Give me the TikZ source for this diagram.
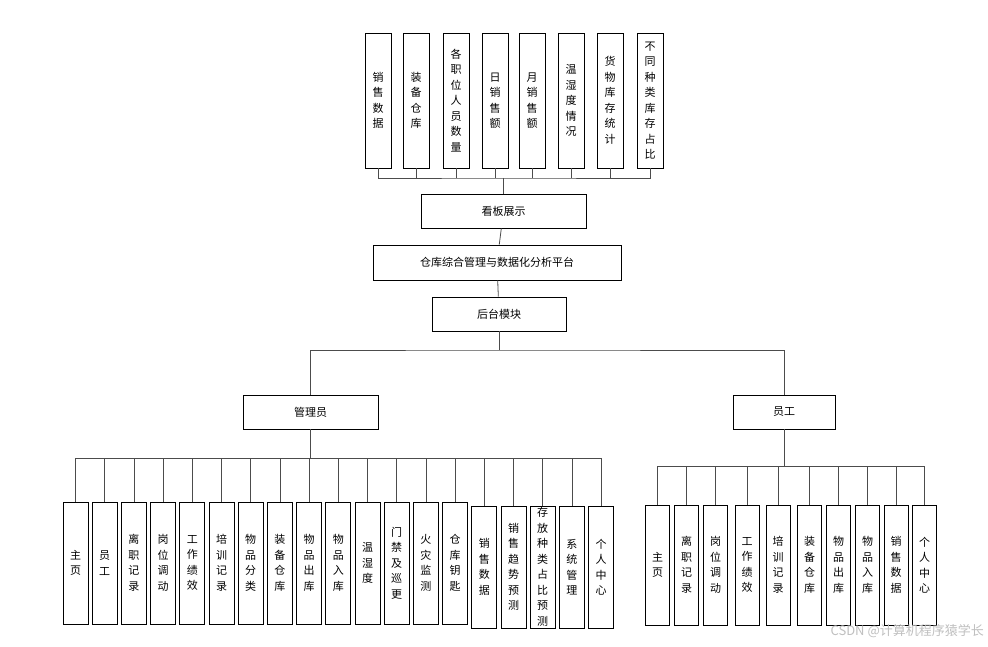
\documentclass[tikz,border=0pt]{standalone}
\usepackage{fontspec}
\newfontfamily\cjk{Noto Sans CJK SC}
\begin{document}
\begin{tikzpicture}[x=1pt,y=-1pt,
  bx/.style={draw=black,line width=0.8pt,fill=white,inner sep=0pt,font=\cjk\fontsize{11}{15.5}\selectfont,align=center},
  ln/.style={draw=black!70,line width=0.8pt}]
\useasboundingbox (0,0) rectangle (988,647);
% top boxes
\foreach \i/\xl/\t in {1/365/销\\售\\数\\据,2/403/装\\备\\仓\\库,3/443/各\\职\\位\\人\\员\\数\\量,4/482/日\\销\\售\\额,5/519/月\\销\\售\\额,6/558/温\\湿\\度\\情\\况,7/597/货\\物\\库\\存\\统\\计,8/637/不\\同\\种\\类\\库\\存\\占\\比}{
  \node[bx,minimum width=26pt,minimum height=135pt] (t\i) at (\xl+13,100.5) {\t};
}
\node[bx,minimum width=165pt,minimum height=34pt] (kb) at (503.5,211) {看板展示};
\node[bx,minimum width=248pt,minimum height=35pt] (pt) at (497,262.5) {仓库综合管理与数据化分析平台};
\node[bx,minimum width=134pt,minimum height=34pt] (ht) at (499,314) {后台模块};
\node[bx,minimum width=135pt,minimum height=34pt] (gl) at (310.5,412) {管理员};
\node[bx,minimum width=102pt,minimum height=34pt] (yg) at (784,412) {员工};
\coordinate (tb) at (503.5,178);
\draw[ln] (t1.south) |- (tb) -| (t8.south);
\foreach \i in {2,...,7}{\draw[ln] (t\i.south) -- (t\i.south |- tb);}
\draw[ln] (tb) -- (kb.north);
\draw[ln] (kb) -- (pt);
\draw[ln] (pt) -- (ht);
\coordinate (mb) at (499,350);
\draw[ln] (ht.south) -- (mb);
\draw[ln] (gl.north) |- (mb) -| (yg.north);
% left children
\coordinate (lb) at (310.5,458);
\draw[ln] (gl.south) -- (lb);
\foreach \i/\t in {0/主\\页,1/员\\工,2/离\\职\\记\\录,3/岗\\位\\调\\动,4/工\\作\\绩\\效,5/培\\训\\记\\录,6/物\\品\\分\\类,7/装\\备\\仓\\库,8/物\\品\\出\\库,9/物\\品\\入\\库,10/温\\湿\\度,11/门\\禁\\及\\巡\\更,12/火\\灾\\监\\测,13/仓\\库\\钥\\匙}{
  \node[bx,minimum width=25pt,minimum height=122pt] (l\i) at (75.5+29.2*\i,563) {\t};
  \draw[ln] (l\i.north) -- (l\i.north |- lb);
}
\foreach \i/\t in {14/销\\售\\数\\据,15/销\\售\\趋\\势\\预\\测,16/存\\放\\种\\类\\占\\比\\预\\测,17/系\\统\\管\\理,18/个\\人\\中\\心}{
  \node[bx,minimum width=25pt,minimum height=122pt] (l\i) at (75.5+29.2*\i,567) {\t};
  \draw[ln] (l\i.north) -- (l\i.north |- lb);
}
\draw[ln] (l0.north |- lb) -- (l18.north |- lb);
% right children
\coordinate (rb) at (784,466);
\draw[ln] (yg.south) -- (rb);
\foreach \i/\xl/\t in {0/645.5/主\\页,1/674.5/离\\职\\记\\录,2/703.5/岗\\位\\调\\动,3/735/工\\作\\绩\\效,4/766/培\\训\\记\\录,5/797.5/装\\备\\仓\\库,6/826.5/物\\品\\出\\库,7/855.5/物\\品\\入\\库,8/884/销\\售\\数\\据,9/912.5/个\\人\\中\\心}{
  \node[bx,minimum width=24pt,minimum height=120pt] (r\i) at (\xl+12,565) {\t};
  \draw[ln] (r\i.north) -- (r\i.north |- rb);
}
\draw[ln] (r0.north |- rb) -- (r9.north |- rb);
\node[text=black!25,font=\cjk\fontsize{13}{15}\selectfont,anchor=east,inner sep=0pt] (wm) at (984,631) {CSDN @计算机程序猿学长};
\end{tikzpicture}
\end{document}
